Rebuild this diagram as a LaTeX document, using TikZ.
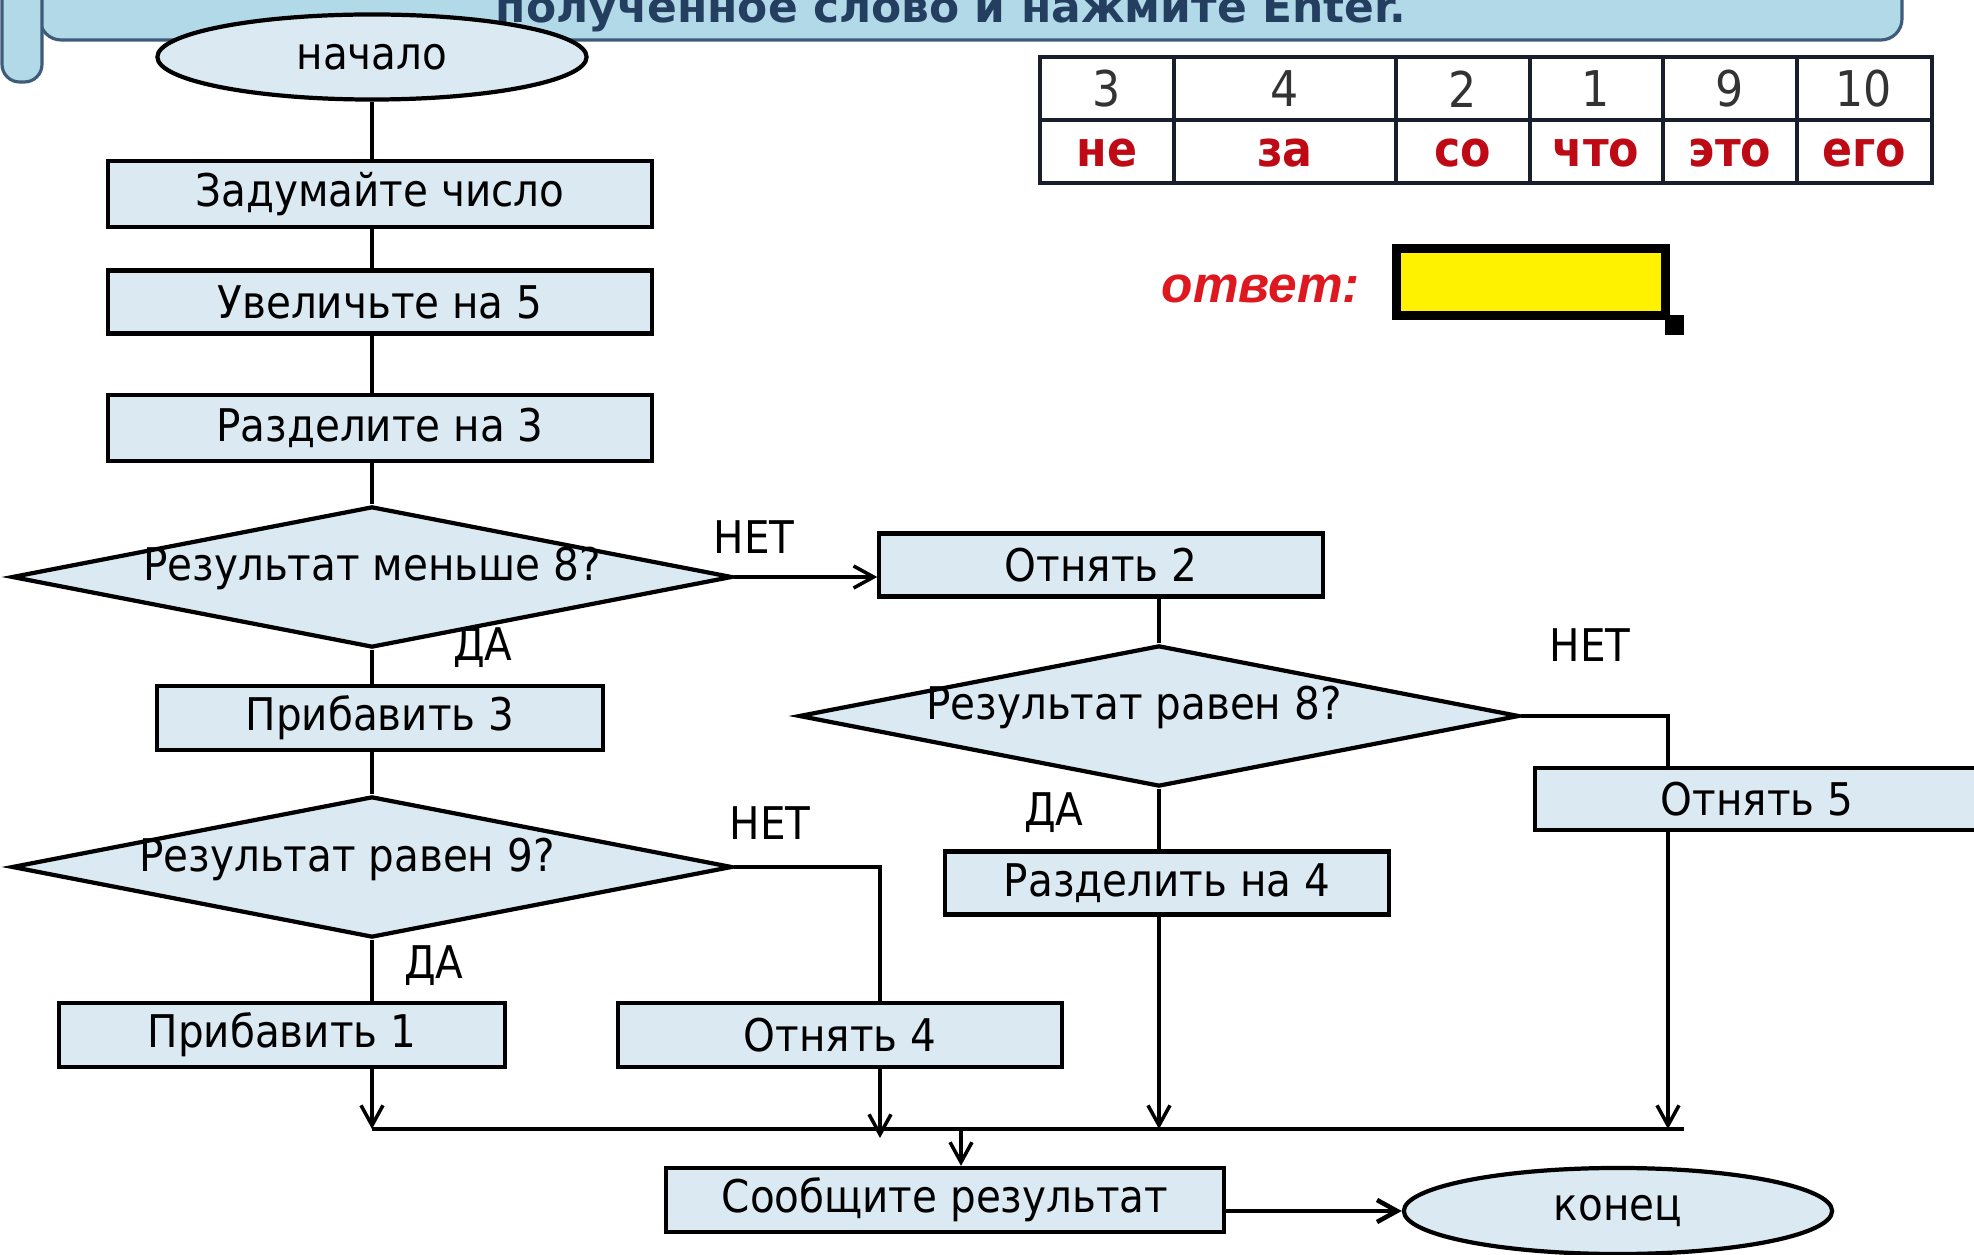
\documentclass[tikz,border=0pt]{standalone}
\usepackage{fontspec}
\setmainfont{DejaVu Sans Condensed}
\newfontfamily\widefont{DejaVu Sans}
\newfontfamily\answerfont{Liberation Sans}
\usetikzlibrary{shapes.geometric,arrows.meta,calc}
\definecolor{boxfill}{RGB}{219,234,242}
\definecolor{bannerfill}{RGB}{178,217,231}
\definecolor{bannerline}{RGB}{62,92,122}
\definecolor{bannertext}{RGB}{36,62,96}
\definecolor{wordred}{RGB}{190,10,20}
\definecolor{answerred}{RGB}{222,24,30}
\definecolor{tabline}{RGB}{25,30,45}
\newcommand\qtext[2][0cm]{\smash{\raisebox{-0.4mm}{#2}}\hspace*{#1}}
\tikzset{
  blk/.style={draw, line width=1.2pt, fill=boxfill, inner sep=0pt,
    minimum width=4.43cm, minimum height=0.64cm,
    font=\fontsize{12.8}{15}\selectfont},
  dec/.style={diamond, draw, line width=1.2pt, fill=boxfill, inner sep=0pt,
    shape aspect=5, minimum width=7.2cm, minimum height=1.41cm,
    font=\fontsize{12.8}{15}\selectfont},
  termin/.style={ellipse, draw, line width=1.2pt, fill=boxfill, inner sep=0pt,
    minimum width=4.29cm, minimum height=0.85cm,
    font=\fontsize{12.8}{15}\selectfont},
  lbl/.style={font=\fontsize{12.8}{15}\selectfont},
  conn/.style={line width=1pt},
  arr/.style={conn, -{Straight Barb[length=2mm,width=2.2mm]}},
}
\begin{document}
\begin{tikzpicture}[x=0.01cm,y=-0.01cm]
\useasboundingbox (0,0) rectangle (1974,1255);
\clip (0,0) rectangle (1974,1255);
\fill[white] (0,0) rectangle (1974,1255);
\draw[fill=bannerfill, draw=bannerline, line width=0.9pt, rounded corners=6pt]
  (40,-80) rectangle (1902,40);
\draw[fill=bannerfill, draw=bannerline, line width=0.9pt, rounded corners=5pt]
  (2,-80) rectangle (42,82);
\node[anchor=base west, inner sep=0pt, text=bannertext,
  font={\widefont\bfseries\fontsize{12.5}{15}\selectfont}] (hint) at (495,23)
  {полученное слово и нажмите Enter.};
\draw[tabline, line width=1.4pt] (1040,57) rectangle (1932,183)
  (1040,120) -- (1932,120);
\foreach \x in {1174,1396,1530,1663,1797}
  \draw[tabline, line width=1.4pt] (\x,57) -- (\x,183);
\foreach \digit/\word/\xc [count=\i] in
  {3/не/1107,4/за/1285,2/со/1463,1/что/1596,9/это/1730,10/его/1864} {
  \node[font=\fontsize{14}{16}\selectfont, text=black!80] (num\i) at (\xc,89) {\digit};
  \node[font=\bfseries\fontsize{14}{16}\selectfont, text=wordred] (word\i) at (\xc,153) {\word};
}
\node[anchor=base, inner sep=0pt, text=answerred,
  font={\answerfont\bfseries\itshape\fontsize{14.6}{18}\selectfont}] (otvet) at (1261,303) {ответ:};
\node[draw, line width=2.6pt, fill=yellow, minimum width=2.68cm,
  minimum height=0.67cm, inner sep=0pt] (field) at (1531,282) {};
\fill ([shift={(-5,-5)}]field.south east) rectangle ++(19,20);

\node[termin] (start) at (372,57) {начало};
\node[blk, minimum width=5.44cm, minimum height=0.66cm] (think) at (380,194) {Задумайте число};
\node[blk, minimum width=5.44cm, minimum height=0.63cm] (add5) at (380,302) {Увеличьте на 5};
\node[blk, minimum width=5.44cm, minimum height=0.66cm] (div3) at (380,428) {Разделите на 3};
\node[dec] (less8) at (372,577) {\qtext{Результат меньше 8?}};
\node[blk, minimum width=4.45cm] (plus3) at (380,718) {Прибавить 3};
\node[dec] (eq9) at (372,867) {\qtext[0.5cm]{Результат равен 9?}};
\node[blk, minimum width=4.45cm] (plus1) at (282,1035) {Прибавить 1};
\node[blk] (minus4) at (840,1035) {Отнять 4};
\node[blk, minimum height=0.63cm] (minus2) at (1101,565) {Отнять 2};
\node[dec] (eq8) at (1159,716) {\qtext[0.5cm]{Результат равен 8?}};
\node[blk, minimum height=0.63cm] (div4) at (1167,883) {Разделить на 4};
\node[blk, minimum height=0.62cm] (minus5) at (1757,799) {Отнять 5};
\node[blk, minimum width=5.58cm] (report) at (945,1200) {Сообщите результат};
\node[termin, minimum width=4.28cm, minimum height=0.86cm] (stop) at (1618,1211) {конец};

\node[lbl] (no1) at (754,537) {НЕТ};
\node[lbl] (yes1) at (483,648) {ДА};
\node[lbl] (no2) at (770,823) {НЕТ};
\node[lbl] (yes2) at (434,966) {ДА};
\node[lbl] (no3) at (1590,645) {НЕТ};
\node[lbl] (yes3) at (1054,813) {ДА};

\coordinate (i4) at ($(minus4.north)+(40,0)$);
\coordinate (o4) at ($(minus4.south)+(40,0)$);
\coordinate (i5) at ($(minus5.north)+(-89,0)$);
\coordinate (o5) at ($(minus5.south)+(-89,0)$);
\coordinate (busL) at (372,1129);
\coordinate (busR) at (1684,1129);
\coordinate (join) at (961,1129);

\draw[conn] (start.south) -- (start.south |- think.north);
\draw[conn] (less8.north |- think.south) -- (less8.north |- add5.north);
\draw[conn] (less8.north |- add5.south) -- (less8.north |- div3.north);
\draw[conn] (less8.north |- div3.south) -- (less8.north);
\draw[arr] (less8.east) -- (less8.east -| minus2.west);
\draw[conn] (less8.south) -- (less8.south |- plus3.north);
\draw[conn] (eq9.north |- plus3.south) -- (eq9.north);
\draw[conn] (eq9.south) -- (eq9.south |- plus1.north);
\draw[conn] (eq9.east) -| (i4);
\draw[conn] (eq8.north |- minus2.south) -- (eq8.north);
\draw[conn] (eq8.south) -- (eq8.south |- div4.north);
\draw[conn] (eq8.east) -| (i5);
\draw[conn, line width=1.2pt] (busL) -- (busR);
\draw[arr] (eq9.south |- plus1.south) -- (busL);
\draw[arr] (o4) -- ($(o4 |- busL)+(0,9)$);
\draw[arr] (eq8.south |- div4.south) -- (eq8.south |- busL);
\draw[arr] (o5) -- (o5 |- busL);
\draw[arr] (join) -- (join |- report.north);
\draw[arr, line width=1.3pt] (report.east |- stop.west) -- (stop.west);
\end{tikzpicture}
\end{document}
